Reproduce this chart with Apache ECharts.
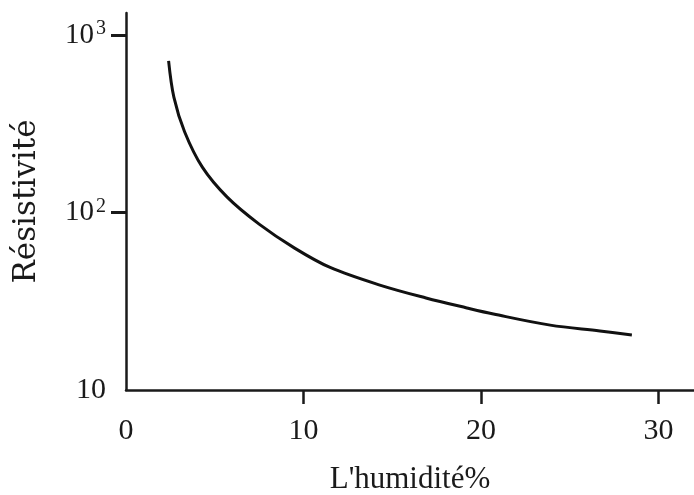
<!DOCTYPE html>
<html>
<head>
<meta charset="utf-8">
<script src="https://cdn.jsdelivr.net/npm/echarts@6/dist/echarts.min.js"></script>
<style>html,body{margin:0;padding:0;background:#fff;}#c{width:694px;height:495px;}</style>
</head>
<body>
<div id="c"></div>
<script>
// Data
var humidity = [2.4, 2.7, 3.3, 4.3, 5.7, 7.5, 9.5, 11.5, 14.3, 16.9, 19.2, 20.7, 23.9, 26.7, 28.5];
var resistivity = [715, 445, 285, 180, 122, 86, 63, 49, 39, 33, 29, 26.8, 23.2, 21.5, 20.4];
var xTickLabels = [0, 10, 20, 30];
var xTickMarks = [10, 20, 30];
var yTickLabels = [10, 100, 1000];
var yTickMarks = [100, 1000];

var font = 'Liberation Serif';
var ink = '#1a1a1a';
var chart = echarts.init(document.getElementById('c'), null, {renderer: 'canvas'});
chart.setOption({
  backgroundColor: '#fff',
  animation: false,
  grid: {left: 126, right: 0, top: 13, bottom: 105, containLabel: false, outerBoundsMode: 'none'},
  xAxis: {
    type: 'value', min: 0, max: 32,
    name: "L'humidité%", nameLocation: 'middle', nameGap: 74,
    nameTextStyle: {fontFamily: font, fontSize: 31, color: ink},
    axisLine: {show: true, lineStyle: {color: ink, width: 2.5}},
    axisTick: {show: true, customValues: xTickMarks, length: 14, lineStyle: {color: ink, width: 2.5}},
    axisLabel: {customValues: xTickLabels, margin: 26, fontFamily: font, fontSize: 30, color: ink},
    splitLine: {show: false}
  },
  yAxis: {
    type: 'log', logBase: 10, min: 10, max: 1330,
    name: 'Résistivité', nameLocation: 'middle', nameGap: 84, nameRotate: 90,
    nameTextStyle: {fontFamily: 'DejaVu Serif', fontSize: 31, color: ink},
    axisLine: {show: true, lineStyle: {color: ink, width: 2.5}},
    axisTick: {show: true, customValues: yTickMarks, length: 15, lineStyle: {color: ink, width: 3}},
    axisLabel: {
      customValues: yTickLabels, margin: 20,
      formatter: function (v) {
        var e = Math.round(Math.log10(v));
        if (e === 1) return '{p|10}';
        return '{b|10}{s|' + e + '}';
      },
      rich: {
        p: {fontFamily: font, fontSize: 30, color: ink, lineHeight: 32},
        b: {fontFamily: font, fontSize: 29, color: ink, lineHeight: 32},
        s: {fontFamily: font, fontSize: 20, color: ink, lineHeight: 20, verticalAlign: 'top', padding: [0, 0, 0, 2]}
      }
    },
    splitLine: {show: false}
  },
  series: [{
    type: 'line',
    data: humidity.map(function (x, i) { return [x, resistivity[i]]; }),
    smooth: 0.35,
    symbol: 'none',
    lineStyle: {color: '#111', width: 3}
  }]
});
</script>
</body>
</html>
